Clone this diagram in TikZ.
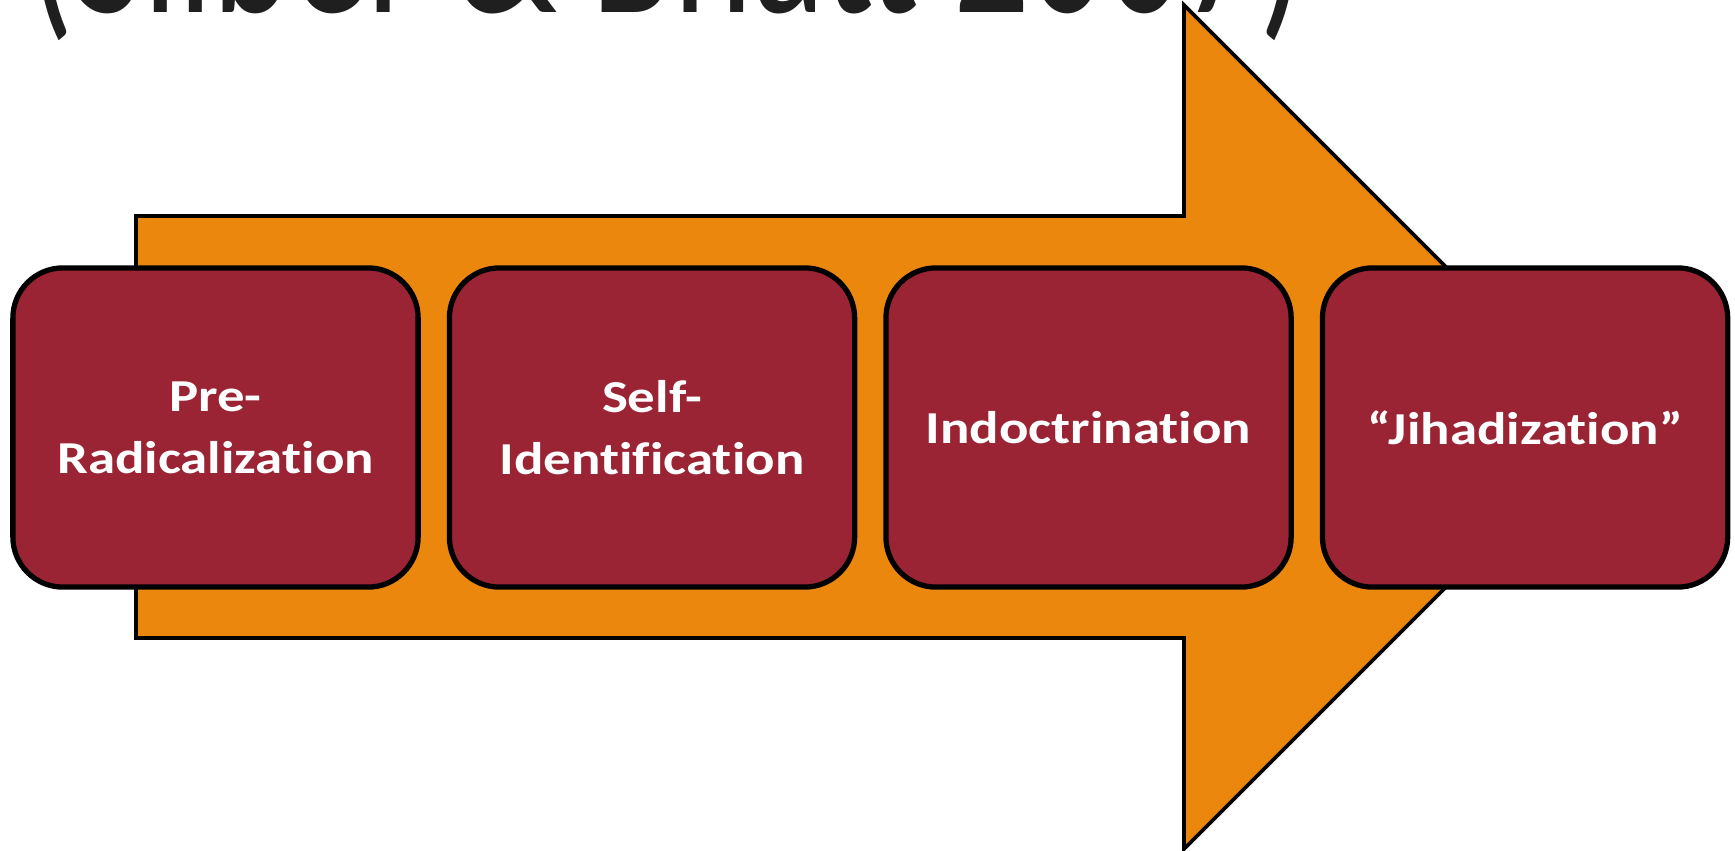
\documentclass[tikz,border=0pt]{standalone}
\usepackage{fontspec}
\setmainfont{Carlito}
\newfontfamily\stagefont[FakeStretch=1.2,Ligatures=NoCommon]{Carlito}
\newfontfamily\headfont[FakeStretch=0.74]{Carlito}
\usetikzlibrary{positioning}

\definecolor{stagered}{RGB}{155,36,52}
\definecolor{flowarrow}{RGB}{236,135,14}

\begin{document}
\begin{tikzpicture}[
    x=0.01cm,y=-0.01cm,
    stage/.style={draw,line width=1.5pt,fill=stagered,rounded corners=0.5cm,
      minimum width=4.05cm,minimum height=3.19cm,align=center,text=white,
      font=\stagefont\bfseries\fontsize{13}{17.6}\selectfont},
    flow/.style={draw,line width=1.1pt,fill=flowarrow},
    heading/.style={anchor=base west,inner sep=0pt,text=black!88,
      font=\headfont\fontsize{58}{60}\selectfont},
  ]

  \useasboundingbox (0,0) rectangle (1735,851);
  \clip (0,0) rectangle (1735,851);

  % heading, only its lower edge fits
  \node (title) at (28,12) [heading] {(Silber \& Bhatt 2007)};

  % big arrow behind the stages
  \draw[flow] (136,216) -- (1184,216) -- (1184,5) -- (1606,427)
    -- (1184,849) -- (1184,638) -- (136,638) -- cycle;

  % stages
  \node (pre) at (215.5,427.5) [stage] {Pre-\\Radicalization};
  \node (self) [stage,right=0.26cm of pre] {Self-\\Identification};
  \node (indoc) [stage,right=0.26cm of self] {Indoctrination};
  \node (jihad) [stage,right=0.26cm of indoc] {“Jihadization”};

\end{tikzpicture}
\end{document}
